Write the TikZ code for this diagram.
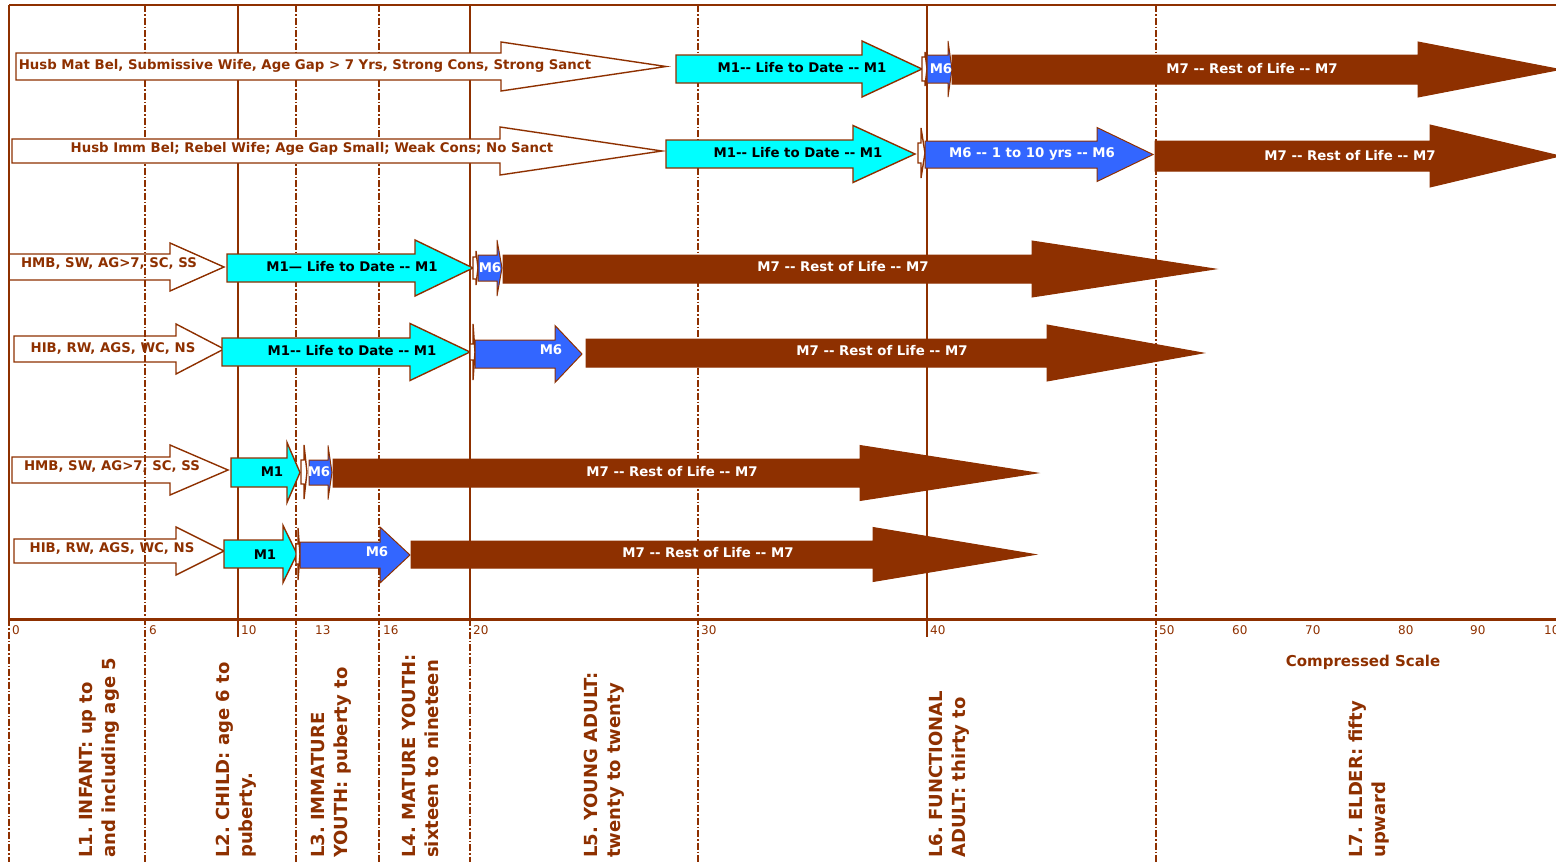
\documentclass[tikz,border=0pt]{standalone}
\usepackage{fontspec}
\setmainfont{DejaVu Sans}[Ligatures=TeXOff]
\usepackage{xcolor}
\usepackage{tikz}
\frenchspacing

\definecolor{brn}{RGB}{142,48,0}
\definecolor{mcyan}{RGB}{0,255,255}
\definecolor{mblue}{RGB}{51,102,255}

\tikzstyle{gline} = [brn, line width=1.2pt]
\tikzstyle{dline} = [brn, line width=1.1pt, dash pattern=on 7pt off 2pt on 1.5pt off 2pt]
\tikzstyle{outarrow} = [draw=brn, fill=white, line width=1.4pt]
\tikzstyle{openarrow} = [draw=brn, line width=1.4pt]
\tikzstyle{cyanarrow} = [draw=brn, fill=mcyan, line width=1.4pt]
\tikzstyle{bluearrow} = [draw=brn, fill=mblue, line width=1pt]
\tikzstyle{brnarrow} = [draw=brn, fill=brn, line width=1pt]

% style, start, head base, tip, y centre, shaft half, head half
\newcommand{\blockarrow}[7]{%
  \draw[#1] (#2,#5-#6) -- (#3,#5-#6) -- (#3,#5-#7) -- (#4,#5)
    -- (#3,#5+#7) -- (#3,#5+#6) -- (#2,#5+#6) -- cycle;}

\begin{document}
\begin{tikzpicture}[
    x=1pt, y=-1pt,
    every node/.style={inner sep=0pt},
    lbl/.style={font=\bfseries\fontsize{13.3}{15}\selectfont},
    grptxt/.style={lbl, text=brn},
    m1txt/.style={lbl, text=black},
    mtxt/.style={lbl, text=white},
    tick/.style={text=brn, font=\fontsize{12}{13}\selectfont, anchor=north west},
    stage/.style={text=brn, font=\bfseries\fontsize{18}{23}\selectfont, rotate=90, anchor=north west, align=left}
]
\useasboundingbox (0,0) rectangle (1556,862);

% Frame and age lines
\draw[gline] (9,5) -- (1560,5);
\foreach \gx in {9,238,470,927}
  \draw[gline] (\gx,5) -- (\gx,619);
\foreach \gx in {145,296,379,698,1156}
  \draw[dline] (\gx,5) -- (\gx,862);
\foreach \gx in {9,470}
  \draw[dline] (\gx,619) -- (\gx,862);
\foreach \gx in {238,927}
  \draw[gline] (\gx,619) -- (\gx,637);
\draw[brn, line width=3pt] (9,619) -- (1560,619);

% Row 1
\blockarrow{outarrow}{16}{501}{666}{66.5}{13.5}{24.5}
\blockarrow{cyanarrow}{676}{862}{922}{69}{14}{28}
\blockarrow{outarrow}{922}{925}{927}{69}{12}{17}
\blockarrow{bluearrow}{927}{948}{952}{69}{14}{28}
\blockarrow{brnarrow}{952}{1418}{1560}{69.5}{14.5}{27.5}
\node[grptxt] (r1grp) at (305,66) {Husb Mat Bel, Submissive Wife, Age Gap > 7 Yrs, Strong Cons, Strong Sanct};
\node[m1txt] (r1m1) at (802,68) {M1-- Life to Date -- M1};
\node[mtxt] (r1m6) at (941,69) {M6};
\node[mtxt] (r1m7) at (1252,69) {M7 -- Rest of Life -- M7};

% Row 2
\blockarrow{outarrow}{12}{500}{662}{151}{12}{24}
\blockarrow{cyanarrow}{666}{853}{915}{154}{14}{28.5}
\blockarrow{outarrow}{918}{921}{925}{153}{10}{25}
\blockarrow{bluearrow}{925}{1097}{1153}{154.5}{13.5}{27}
\blockarrow{brnarrow}{1155}{1430}{1560}{156}{15}{31}
\node[grptxt] (r2grp) at (312,149) {Husb Imm Bel; Rebel Wife; Age Gap Small; Weak Cons; No Sanct};
\node[m1txt] (r2m1) at (798,153) {M1-- Life to Date -- M1};
\node[mtxt] (r2m6) at (1032,154) {M6 -- 1 to 10 yrs -- M6};
\node[mtxt] (r2m7) at (1350,156) {M7 -- Rest of Life -- M7};

% Row 3
\blockarrow{openarrow}{9}{170}{224}{267}{13}{24}
\blockarrow{cyanarrow}{227}{415}{473}{268}{14}{28}
\blockarrow{outarrow}{473}{476}{478}{268}{11}{17}
\blockarrow{bluearrow}{478}{497}{502}{268}{13}{28}
\blockarrow{brnarrow}{503}{1032}{1215}{269}{14}{28}
\node[grptxt] (r3grp) at (109,264) {HMB, SW, AG>7, SC, SS};
\node[m1txt] (r3m1) at (352,267) {M1— Life to Date -- M1};
\node[mtxt] (r3m6) at (490,268) {M6};
\node[mtxt] (r3m7) at (843,267) {M7 -- Rest of Life -- M7};

% Row 4
\blockarrow{openarrow}{14}{176}{224}{349}{13}{25}
\blockarrow{cyanarrow}{222}{410}{470}{352}{14}{28.5}
\blockarrow{outarrow}{470}{473}{475}{352}{8}{28}
\blockarrow{bluearrow}{475}{555}{582}{354}{14}{28.5}
\blockarrow{brnarrow}{586}{1047}{1203}{353}{14}{28}
\node[grptxt] (r4grp) at (113,349) {HIB, RW, AGS, WC, NS};
\node[m1txt] (r4m1) at (352,351) {M1-- Life to Date -- M1};
\node[mtxt] (r4m6) at (551,350) {M6};
\node[mtxt] (r4m7) at (882,351) {M7 -- Rest of Life -- M7};

% Row 5
\blockarrow{openarrow}{12}{170}{228}{470}{13}{25}
\blockarrow{cyanarrow}{231}{287}{300}{472.5}{14.5}{30}
\blockarrow{outarrow}{301}{304}{307}{472}{12}{27}
\blockarrow{bluearrow}{309}{328}{332}{472.5}{12.5}{27}
\blockarrow{brnarrow}{333}{860}{1037}{473}{14}{27.5}
\node[grptxt] (r5grp) at (112,467) {HMB, SW, AG>7, SC, SS};
\node[m1txt] (r5m1) at (272,472) {M1};
\node[mtxt] (r5m6) at (319,472) {M6};
\node[mtxt] (r5m7) at (672,472) {M7 -- Rest of Life -- M7};

% Row 6
\blockarrow{openarrow}{14}{176}{224}{551}{12}{24}
\blockarrow{cyanarrow}{224}{283}{297}{554}{14}{28.5}
\blockarrow{outarrow}{296}{298}{300}{554}{10}{26}
\blockarrow{bluearrow}{300}{380}{410}{555}{13}{28}
\blockarrow{brnarrow}{411}{873}{1035}{554.5}{13.5}{27}
\node[grptxt] (r6grp) at (112,549) {HIB, RW, AGS, WC, NS};
\node[m1txt] (r6m1) at (265,555) {M1};
\node[mtxt] (r6m6) at (377,552) {M6};
\node[mtxt] (r6m7) at (708,553) {M7 -- Rest of Life -- M7};

% Age scale
\foreach \gx/\lab in {12/0,149/6,241/10,315/13,383/16,473/20,701/30,930/40,1159/50,1232/60,1305/70,1398/80,1470/90,1544/100}
  \node[tick] (t\lab) at (\gx,625) {\lab};
\node[text=brn, font=\bfseries\fontsize{15}{17}\selectfont] (cscale) at (1363,662) {Compressed Scale};

% Life stages
\node[stage] (l1) at (79,858) {L1. INFANT: up to\\and including age 5};
\node[stage] (l2) at (216,858) {L2. CHILD: age 6 to\\puberty.};
\node[stage] (l3) at (311,858) {L3. IMMATURE\\YOUTH: puberty to};
\node[stage] (l4) at (402,858) {L4. MATURE YOUTH:\\sixteen to nineteen};
\node[stage] (l5) at (584,858) {L5. YOUNG ADULT:\\twenty to twenty};
\node[stage] (l6) at (929,858) {L6. FUNCTIONAL\\ADULT: thirty to};
\node[stage] (l7) at (1349,858) {L7. ELDER: fifty\\upward};

\end{tikzpicture}
\end{document}
